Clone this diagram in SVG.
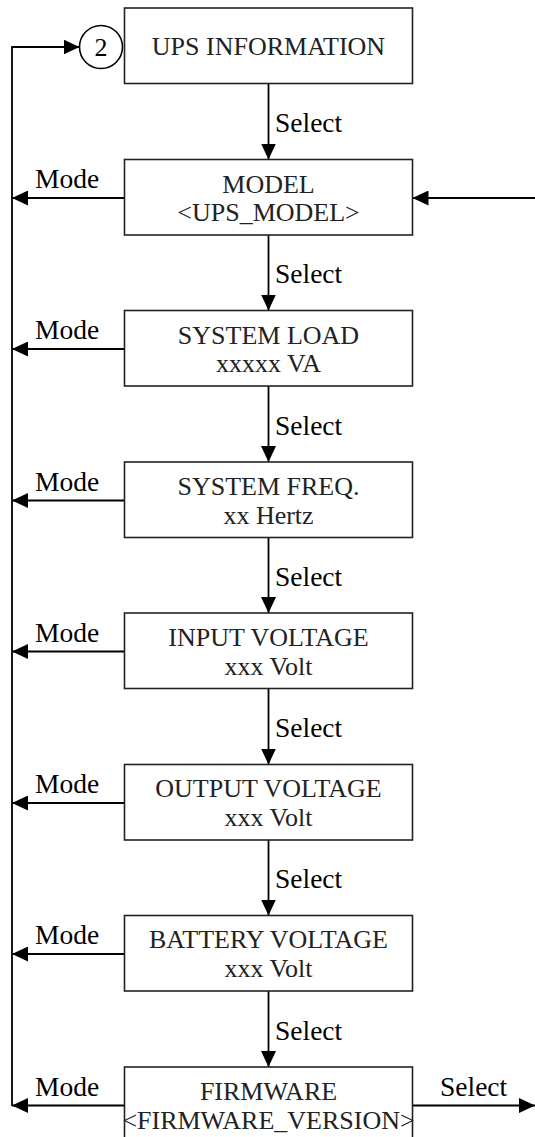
<svg xmlns="http://www.w3.org/2000/svg" width="535" height="1137" viewBox="0 0 535 1137">
<defs>
<marker id="ah" markerUnits="userSpaceOnUse" markerWidth="17" markerHeight="15" refX="16" refY="7.5" orient="auto">
<path d="M0,0 L16,7.5 L0,15 z" fill="#000"/>
</marker>
<style>
.box{fill:#fff;stroke:#222;stroke-width:1.6}
.bt{font-family:"Liberation Serif","Times New Roman",serif;font-size:26px;fill:#222;text-anchor:middle}
.lb{font-family:"Liberation Serif","Times New Roman",serif;font-size:27.5px;fill:#000}
.ln{fill:none;stroke:#000;stroke-width:1.8}
.arr{fill:none;stroke:#000;stroke-width:1.8;marker-end:url(#ah)}
</style>
</defs>
<rect width="535" height="1137" fill="#fff"/>
<g id="connectors">
<polyline class="arr" points="12,1106 12,47 79.5,47"/>
<line class="arr" x1="268.5" y1="83.5" x2="268.5" y2="159.5"/>
<line class="arr" x1="268.5" y1="235" x2="268.5" y2="310.5"/>
<line class="arr" x1="268.5" y1="386" x2="268.5" y2="462"/>
<line class="arr" x1="268.5" y1="537.5" x2="268.5" y2="613"/>
<line class="arr" x1="268.5" y1="688.5" x2="268.5" y2="764.5"/>
<line class="arr" x1="268.5" y1="840" x2="268.5" y2="915.5"/>
<line class="arr" x1="268.5" y1="991" x2="268.5" y2="1067"/>
<line class="arr" x1="535" y1="198" x2="412.5" y2="198"/>
<line class="arr" x1="124.5" y1="198" x2="12" y2="198"/>
<line class="arr" x1="124.5" y1="349" x2="12" y2="349"/>
<line class="arr" x1="124.5" y1="500.5" x2="12" y2="500.5"/>
<line class="arr" x1="124.5" y1="651.5" x2="12" y2="651.5"/>
<line class="arr" x1="124.5" y1="803" x2="12" y2="803"/>
<line class="arr" x1="124.5" y1="954" x2="12" y2="954"/>
<line class="arr" x1="124.5" y1="1105.5" x2="12" y2="1105.5"/>
<line class="arr" x1="412.5" y1="1105.5" x2="535" y2="1105.5"/>
<text class="lb" x="275" y="132">Select</text>
<text class="lb" x="275" y="283">Select</text>
<text class="lb" x="275" y="434.5">Select</text>
<text class="lb" x="275" y="585.5">Select</text>
<text class="lb" x="275" y="737">Select</text>
<text class="lb" x="275" y="888">Select</text>
<text class="lb" x="275" y="1039.5">Select</text>
<text class="lb" x="440" y="1096">Select</text>
<text class="lb" x="35" y="188">Mode</text>
<text class="lb" x="35" y="339">Mode</text>
<text class="lb" x="35" y="490.5">Mode</text>
<text class="lb" x="35" y="641.5">Mode</text>
<text class="lb" x="35" y="793">Mode</text>
<text class="lb" x="35" y="944">Mode</text>
<text class="lb" x="35" y="1095.5">Mode</text>
</g>
<g id="circle2">
<circle cx="101" cy="47" r="21.5" fill="#fff" stroke="#000" stroke-width="1.6"/>
<text class="bt" x="101" y="56" style="fill:#000">2</text>
</g>
<g id="ups-info">
<rect class="box" x="124.5" y="8" width="288" height="75.5"/>
<text class="bt" x="268.5" y="55">UPS INFORMATION</text>
</g>
<g id="model">
<rect class="box" x="124.5" y="159.5" width="288" height="75.5"/>
<text class="bt" x="268.5" y="192.5">MODEL</text>
<text class="bt" x="268.5" y="221">&lt;UPS_MODEL&gt;</text>
</g>
<g id="system-load">
<rect class="box" x="124.5" y="310.5" width="288" height="75.5"/>
<text class="bt" x="268.5" y="343.5">SYSTEM LOAD</text>
<text class="bt" x="268.5" y="372">xxxxx VA</text>
</g>
<g id="system-freq">
<rect class="box" x="124.5" y="462" width="288" height="75.5"/>
<text class="bt" x="268.5" y="494.5">SYSTEM FREQ.</text>
<text class="bt" x="268.5" y="523.5">xx Hertz</text>
</g>
<g id="input-voltage">
<rect class="box" x="124.5" y="613" width="288" height="75.5"/>
<text class="bt" x="268.5" y="645.5">INPUT VOLTAGE</text>
<text class="bt" x="268.5" y="674.5">xxx Volt</text>
</g>
<g id="output-voltage">
<rect class="box" x="124.5" y="764.5" width="288" height="75.5"/>
<text class="bt" x="268.5" y="797">OUTPUT VOLTAGE</text>
<text class="bt" x="268.5" y="826">xxx Volt</text>
</g>
<g id="battery-voltage">
<rect class="box" x="124.5" y="915.5" width="288" height="75.5"/>
<text class="bt" x="268.5" y="948">BATTERY VOLTAGE</text>
<text class="bt" x="268.5" y="977">xxx Volt</text>
</g>
<g id="firmware">
<rect class="box" x="124.5" y="1067" width="288" height="80"/>
<text class="bt" x="268.5" y="1099.5">FIRMWARE</text>
<text class="bt" x="268.5" y="1128.5">&lt;FIRMWARE_VERSION&gt;</text>
</g>
</svg>
